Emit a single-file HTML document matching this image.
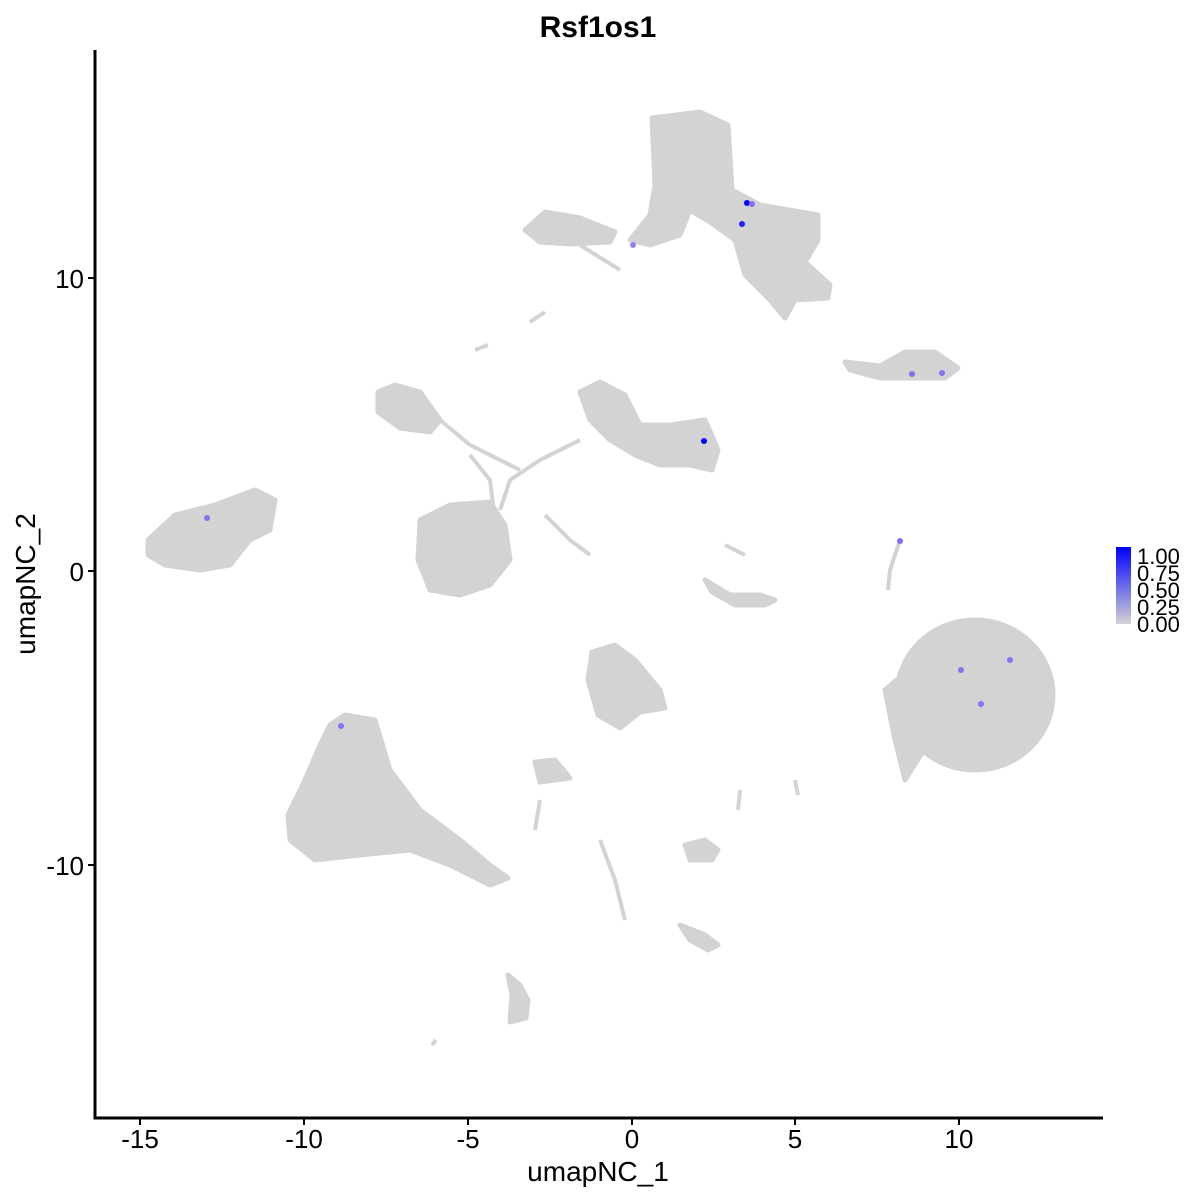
<!DOCTYPE html>
<html><head><style>body{margin:0;background:#fff}svg{display:block}</style></head><body>
<svg width="1200" height="1200" xmlns="http://www.w3.org/2000/svg" font-family="Liberation Sans, sans-serif">
<defs><linearGradient id="g" x1="0" y1="1" x2="0" y2="0"><stop offset="0" stop-color="#d3d3d3"/><stop offset="1" stop-color="#0000ff"/></linearGradient></defs>
<text x="598" y="37" font-size="30" font-weight="bold" text-anchor="middle">Rsf1os1</text>
<g fill="#d3d3d3" stroke="#d3d3d3" stroke-width="5" stroke-linejoin="round">
<path d="M652,118 L700,112 L728,125 L732,190 L760,205 L818,215 L818,240 L805,262 L830,285 L828,298 L795,300 L785,318 L770,300 L745,275 L735,240 L710,222 L690,210 L680,235 L650,245 L630,240 L650,215 L655,185 Z"/>
<path d="M525,230 L545,212 L580,218 L615,232 L610,242 L570,244 L540,242 Z"/>
<path d="M845,362 L880,366 L905,352 L935,352 L958,368 L945,378 L915,378 L880,378 L850,370 Z"/>
<path d="M378,392 L395,385 L420,392 L440,420 L430,432 L400,428 L378,412 Z"/>
<path d="M420,520 L450,505 L490,502 L505,525 L510,560 L490,585 L460,595 L430,590 L418,560 Z"/>
<path d="M580,392 L600,382 L625,395 L640,425 L670,425 L705,420 L718,450 L712,470 L690,465 L660,465 L635,455 L610,440 L590,420 Z"/>
<path d="M148,540 L175,515 L215,505 L255,490 L275,500 L270,530 L250,540 L230,565 L200,570 L165,565 L148,555 Z"/>
<ellipse cx="975" cy="695" rx="78" ry="75"/>
<path d="M885,690 L920,660 L930,740 L905,780 L895,740 Z"/>
<path d="M330,725 L345,715 L375,720 L390,770 L420,810 L460,840 L490,865 L508,878 L490,885 L450,865 L410,850 L360,855 L315,860 L290,840 L288,815 L305,780 L320,745 Z"/>
<path d="M592,652 L615,645 L635,660 L660,690 L665,708 L640,712 L620,728 L598,715 L588,680 Z"/>
<path d="M535,762 L555,760 L570,778 L540,782 Z"/>
<path d="M685,845 L705,840 L718,850 L712,860 L690,860 Z"/>
<path d="M705,580 L730,595 L760,595 L775,600 L765,605 L735,605 L712,592 Z"/>
<path d="M508,975 L520,985 L528,1000 L526,1018 L510,1022 L512,995 Z"/>
<path d="M680,925 L705,935 L718,945 L708,950 L690,940 Z"/>
</g>
<g stroke="#d3d3d3" stroke-width="4" fill="none">
<path d="M440,420 L470,445 L500,460 L520,470"/>
<path d="M470,455 L490,480 L495,520"/>
<path d="M580,440 L540,460 L510,480 L500,510"/>
<path d="M545,515 L570,540 L590,555"/>
<path d="M620,270 L580,245"/>
<path d="M530,322 L545,312"/>
<path d="M475,350 L488,345"/>
<path d="M900,540 L890,570 L888,590"/>
<path d="M725,545 L745,555"/>
<path d="M600,840 L615,880 L625,920"/>
<path d="M540,800 L535,830"/>
<path d="M795,780 L798,795"/>
<path d="M740,790 L738,810"/>
<path d="M432,1045 L436,1040"/>
</g>
<g>
<circle cx="747" cy="203" r="3" fill="#0000ff"/><circle cx="752" cy="204" r="3" fill="#8a6df0"/>
<circle cx="742" cy="224" r="3" fill="#2020ff"/><circle cx="633" cy="245" r="3" fill="#9a80ee"/>
<circle cx="704" cy="441" r="3" fill="#0000ff"/><circle cx="912" cy="374" r="3" fill="#8a6df0"/>
<circle cx="942" cy="373" r="3" fill="#8a6df0"/><circle cx="207" cy="518" r="3" fill="#8a6df0"/>
<circle cx="900" cy="541" r="3" fill="#8a6df0"/><circle cx="961" cy="670" r="3" fill="#8a6df0"/>
<circle cx="1010" cy="660" r="3" fill="#8a6df0"/><circle cx="981" cy="704" r="3" fill="#8a6df0"/>
<circle cx="341" cy="726" r="3" fill="#8a6df0"/>
</g>
<path d="M95,50 V1118 H1103" stroke="#000" stroke-width="3" fill="none"/>
<g stroke="#000" stroke-width="2">
<path d="M140,1118v7M304,1118v7M468,1118v7M632,1118v7M795,1118v7M959,1118v7"/>
<path d="M95,278h-7M95,571h-7M95,865h-7"/>
</g>
<g font-size="26" text-anchor="middle">
<text x="140" y="1148">-15</text><text x="304" y="1148">-10</text><text x="468" y="1148">-5</text>
<text x="632" y="1148">0</text><text x="795" y="1148">5</text><text x="959" y="1148">10</text>
</g>
<g font-size="26" text-anchor="end">
<text x="84" y="288">10</text><text x="84" y="581">0</text><text x="84" y="875">-10</text>
</g>
<text x="598" y="1181" font-size="28" text-anchor="middle">umapNC_1</text>
<text transform="translate(35,584) rotate(-90)" font-size="28" text-anchor="middle">umapNC_2</text>
<rect x="1116" y="547" width="15" height="77" fill="url(#g)"/>
<g font-size="22">
<text x="1137" y="564">1.00</text><text x="1137" y="581">0.75</text><text x="1137" y="598">0.50</text>
<text x="1137" y="615">0.25</text><text x="1137" y="632">0.00</text>
</g>
</svg>
</body></html>
